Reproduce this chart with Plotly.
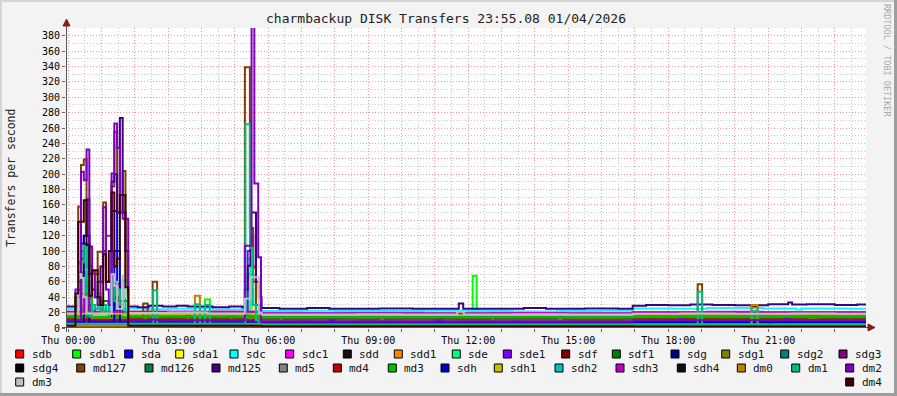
import plotly.graph_objects as go

# ---------------- data (minutes after Thu 00:00, transfers/s), step changes ----------------
T_START, T_END = -4, 1436
Y_MAX = 390

sdb = [[-4, 2.4], [18, 72], [28, 45], [38, 2.4], [83, 58], [93, 2.4], [348, 2.4]]
sdb1 = [[-4, 14], [23, 60], [33, 14], [88, 20], [98, 14], [246, 37], [255, 14], [728, 68], [735, 14], [1016, 15]]
sda = [[-4, 7], [23, 110], [33, 7], [78, 152], [88, 7], [323, 70], [333, 6.3], [1016, 7.6]]
sda1 = [[-4, 19], [13, 40], [18, 82], [28, 76], [38, 19], [323, 60], [333, 17.6], [1040, 21], [1060, 18.5]]
sdc = [[-4, 25], [18, 70], [28, 40], [38, 25], [78, 60], [88, 25], [108, 25.5], [140, 24.5], [180, 25], [230, 26],
       [260, 24], [313, 25], [323, 50], [333, 30], [348, 22], [420, 22.5], [480, 22], [640, 22.5], [720, 22],
       [800, 21.5], [880, 22], [960, 22.5], [1016, 25.5], [1090, 25], [1150, 26], [1250, 25.5], [1310, 24],
       [1320, 25.5], [1400, 25]]
sdc1 = [[-4, 21], [23, 55], [33, 21], [83, 55], [93, 21], [348, 19.3], [500, 19.6], [640, 19], [760, 19.5],
        [900, 19], [1016, 20.6], [1150, 21], [1250, 20.6]]
sdd = [[-4, 0.5]]
sdd1 = [[-4, 13], [18, 86], [28, 13], [328, 78], [338, 11.5], [1016, 12]]
sde = [[-4, 5.5], [28, 60], [38, 5.5], [318, 90], [328, 4.6]]
sde1 = [[-4, 10], [13, 50], [23, 10], [323, 100], [328, 120], [333, 80], [338, 8.5], [1016, 10]]
sdf = [[-4, 3], [28, 30], [38, 3], [348, 2.4], [1016, 2]]
sdf1 = [[-4, 15], [38, 30], [48, 20], [63, 35], [78, 37], [93, 35], [108, 15], [348, 14], [1016, 15]]
sdg = [[-4, 7], [348, 6.3], [1016, 7.6]]
sdg1 = [[-4, 13], [348, 11.5], [1016, 12]]
sdg2 = [[-4, 5.5], [348, 4.6]]
sdg3 = [[-4, 10], [348, 8.5], [1016, 10]]
sdg4 = [[-4, 0.5]]
md127 = [[-4, 13], [13, 40], [18, 158], [23, 212], [28, 219], [33, 120], [38, 80], [43, 74], [48, 70], [53, 99],
         [63, 163], [68, 120], [78, 184], [83, 255], [88, 150], [98, 204], [103, 60], [108, 13], [135, 32],
         [143, 13], [152, 60], [160, 13], [200, 12.5], [212, 16], [220, 12.5], [260, 13], [290, 15], [298, 13],
         [318, 339], [327, 130], [333, 60], [338, 30], [343, 20], [348, 11.5], [380, 14], [388, 11.5], [440, 12],
         [520, 11], [560, 14], [570, 11.5], [600, 12], [700, 11.5], [760, 14.5], [768, 12], [800, 12], [880, 14],
         [892, 11], [900, 11], [1000, 12], [1133, 57], [1141, 12], [1180, 14], [1188, 12], [1230, 28], [1241, 12],
         [1300, 12.5], [1330, 15], [1350, 12.5], [1380, 12], [1400, 14], [1410, 12]]
md126 = [[-4, 15], [13, 40], [23, 100], [28, 60], [33, 30], [48, 20], [58, 35], [73, 30], [88, 35], [98, 20],
         [108, 15], [348, 14], [1016, 15]]
md125 = [[-4, 28], [13, 28], [18, 60], [23, 90], [28, 120], [33, 167], [38, 70], [43, 50], [48, 40], [53, 60],
         [58, 80], [63, 100], [68, 60], [78, 190], [83, 200], [88, 150], [93, 273], [98, 150], [103, 100],
         [108, 28], [125, 27], [145, 29], [170, 28], [195, 29], [215, 28], [260, 27], [290, 28], [313, 27],
         [318, 50], [323, 81], [328, 150], [338, 60], [343, 40], [348, 26], [380, 25], [430, 26], [470, 25],
         [560, 25.5], [620, 25], [703, 32], [711, 25], [760, 25], [820, 26], [860, 25], [930, 25.5], [990, 25],
         [1016, 29], [1040, 30], [1080, 29.5], [1120, 30.5], [1160, 30], [1200, 29.5], [1260, 31], [1296, 33],
         [1303, 30.5], [1330, 31], [1380, 30], [1420, 30.5]]
md5 = [[-4, 19], [23, 50], [33, 19], [348, 17.6], [1016, 18.5]]
md4 = [[-4, 3], [23, 45], [33, 3], [83, 40], [93, 3], [348, 2.4], [1016, 2]]
md3 = [[-4, 15], [33, 40], [43, 15], [73, 35], [83, 15], [348, 14], [1016, 15]]
sdh = [[-4, 7], [28, 120], [38, 7], [83, 100], [93, 7], [180, 9], [188, 7], [348, 6.3], [420, 8], [428, 6.3],
       [610, 4.5], [618, 6.3], [800, 8], [806, 6.3], [1016, 7.6], [1140, 9], [1150, 7.6], [1260, 5.5], [1268, 7.6],
       [1380, 9], [1386, 7.6]]
sdh1 = [[-4, 19], [348, 17.6], [1016, 18.5]]
sdh2 = [[-4, 5.5], [348, 4.6]]
sdh3 = [[-4, 21], [28, 40], [38, 21], [348, 19.3], [1016, 20.6]]
sdh4 = [[-4, 0.5]]
dm0 = [[-4, 3], [228, 42], [237, 3], [348, 2.4], [1016, 2], [1230, 30], [1241, 2]]
dm1 = [[-4, 5.5], [13, 20], [18, 85], [28, 107], [33, 20], [38, 15], [43, 30], [48, 25], [53, 45], [58, 20],
       [63, 30], [68, 20], [73, 35], [78, 55], [83, 35], [88, 50], [93, 30], [98, 62], [103, 20], [108, 5.5],
       [153, 49], [160, 5.5], [228, 31], [237, 5.5], [246, 30], [255, 5.5], [319, 265], [327, 104], [332, 30],
       [338, 10], [343, 5], [348, 4.6], [1133, 47], [1141, 4.6], [1230, 22], [1241, 4.6]]
dm2 = [[-4, 10], [23, 203], [28, 192], [33, 232], [38, 106], [43, 71], [48, 40], [53, 30], [58, 60], [63, 157],
       [68, 50], [73, 30], [78, 201], [83, 266], [88, 234], [93, 150], [98, 142], [108, 10], [150, 11], [160, 10],
       [318, 107], [330, 395], [335, 188], [342, 92], [347, 8.5], [470, 10], [480, 8.5], [660, 10], [672, 8.5],
       [1016, 10], [1100, 11.5], [1110, 10], [1290, 11.5], [1300, 10]]
dm3 = [[-4, 19], [18, 70], [23, 65], [28, 40], [33, 19], [78, 70], [83, 55], [88, 25], [98, 68], [103, 40],
       [108, 19.5], [180, 20], [250, 19], [318, 38], [328, 66], [343, 20], [348, 17.6], [520, 18], [600, 17.6],
       [700, 21], [712, 17.6], [800, 18], [900, 17.5], [1016, 18.5], [1100, 19], [1200, 18.5], [1300, 19],
       [1380, 18.5]]
dm4 = [[-4, 3], [13, 45], [18, 138], [28, 166], [33, 108], [38, 42], [43, 75], [53, 40], [58, 30], [63, 96],
       [68, 60], [73, 100], [78, 176], [83, 80], [88, 90], [93, 173], [103, 53], [108, 3], [348, 2.4], [1016, 2]]

names = ["sdb", "sdb1", "sda", "sda1", "sdc", "sdc1", "sdd", "sdd1", "sde", "sde1", "sdf", "sdf1", "sdg", "sdg1",
         "sdg2", "sdg3", "sdg4", "md127", "md126", "md125", "md5", "md4", "md3", "sdh", "sdh1", "sdh2", "sdh3",
         "sdh4", "dm0", "dm1", "dm2", "dm3", "dm4"]
values = [sdb, sdb1, sda, sda1, sdc, sdc1, sdd, sdd1, sde, sde1, sdf, sdf1, sdg, sdg1, sdg2, sdg3, sdg4,
          md127, md126, md125, md5, md4, md3, sdh, sdh1, sdh2, sdh3, sdh4, dm0, dm1, dm2, dm3, dm4]
colors = ["#FF0000", "#00FF00", "#0000FF", "#FFFF00", "#00FFFF", "#FF00FF", "#111111", "#FF8800", "#00FF80",
          "#8000FF", "#800000", "#008000", "#000080", "#808000", "#008080", "#800080", "#000000",
          "#804000", "#008040", "#400080", "#808080", "#C00000", "#00C000", "#0000C0", "#C0C000", "#00C0C0",
          "#C000C0", "#101010", "#C08000", "#00C080", "#8000C0", "#C0C0C0", "#400000"]

x_tick_minutes = list(range(0, 1440, 60))
x_tick_text = ["Thu %02d:00" % (m // 60) if m % 180 == 0 else "" for m in x_tick_minutes]
y_ticks = list(range(0, 391, 20))

# ---------------- layout helpers ----------------
W, H = 897, 396
ML, MR, MT, MB = 66, 31, 28, 68
PW, PH = W - ML - MR, H - MT - MB


def px(x):
    return (x - ML) / PW


def py(y):
    return (H - MB - y) / PH


MONO = "DejaVu Sans Mono"

fig = go.Figure()
for name, color, pts in zip(names, colors, values):
    pts = sorted(pts)
    xs = [p[0] for p in pts] + [T_END]
    ys = [p[1] for p in pts] + [pts[-1][1]]
    fig.add_trace(go.Scatter(x=xs, y=ys, mode="lines", name=name,
                             line=dict(color=color, width=2, shape="hv"),
                             hoverinfo="skip", showlegend=False))

fig.update_xaxes(range=[T_START, T_END], tickmode="array", tickvals=x_tick_minutes, ticktext=x_tick_text,
                 showgrid=True, gridcolor="#FF9A9A", griddash="1px,2px", gridwidth=1,
                 minor=dict(dtick=30, tick0=0, showgrid=True, gridcolor="#C8C8C8", griddash="1px,2px"),
                 ticks="outside", ticklen=3, tickcolor="#666666", zeroline=False, showline=False,
                 tickfont=dict(family=MONO, size=10, color="#000000"), fixedrange=True)
fig.update_yaxes(range=[0, Y_MAX], tickmode="array", tickvals=y_ticks, ticktext=[str(v) for v in y_ticks],
                 showgrid=True, gridcolor="#FF9A9A", griddash="1px,2px", gridwidth=1,
                 minor=dict(dtick=10, tick0=0, showgrid=True, gridcolor="#C8C8C8", griddash="1px,2px"),
                 ticks="outside", ticklen=3, tickcolor="#666666", zeroline=False, showline=False,
                 tickfont=dict(family=MONO, size=10, color="#000000"), fixedrange=True)

shapes = []
# frame
shapes.append(dict(type="rect", xref="paper", yref="paper", x0=px(0), x1=px(W), y0=py(0), y1=py(2),
                   fillcolor="#D4D4D4", line=dict(width=0), layer="below"))
shapes.append(dict(type="rect", xref="paper", yref="paper", x0=px(0), x1=px(2), y0=py(0), y1=py(H),
                   fillcolor="#D4D4D4", line=dict(width=0), layer="below"))
shapes.append(dict(type="rect", xref="paper", yref="paper", x0=px(0), x1=px(W), y0=py(H - 3), y1=py(H),
                   fillcolor="#9E9E9E", line=dict(width=0), layer="below"))
shapes.append(dict(type="rect", xref="paper", yref="paper", x0=px(W - 3), x1=px(W), y0=py(0), y1=py(H),
                   fillcolor="#9E9E9E", line=dict(width=0), layer="below"))
# axis lines
shapes.append(dict(type="line", xref="paper", yref="paper", x0=px(66.5), x1=px(66.5), y0=py(24), y1=py(332),
                   line=dict(color="#555555", width=1)))
shapes.append(dict(type="line", xref="paper", yref="paper", x0=px(62), x1=px(870), y0=py(327.5), y1=py(327.5),
                   line=dict(color="#555555", width=1)))
# arrows
shapes.append(dict(type="path", xref="paper", yref="paper",
                   path="M %f,%f L %f,%f L %f,%f Z" % (px(66.5), py(19), px(63), py(26), px(70), py(26)),
                   fillcolor="#8B1A1A", line=dict(color="#8B1A1A", width=1)))
shapes.append(dict(type="path", xref="paper", yref="paper",
                   path="M %f,%f L %f,%f L %f,%f Z" % (px(875), py(327.5), px(868), py(324), px(868), py(331)),
                   fillcolor="#8B1A1A", line=dict(color="#8B1A1A", width=1)))

annotations = []
annotations.append(dict(text="charmbackup DISK Transfers 23:55.08 01/04/2026", x=px(446), y=py(19),
                        xref="paper", yref="paper", showarrow=False, xanchor="center", yanchor="middle",
                        font=dict(family=MONO, size=13, color="#222222")))
annotations.append(dict(text="Transfers per second", x=px(11), y=py(178), xref="paper", yref="paper",
                        showarrow=False, textangle=-90, xanchor="center", yanchor="middle",
                        font=dict(family=MONO, size=11.5, color="#222222")))
annotations.append(dict(text="RRDTOOL / TOBI OETIKER", x=px(887), y=py(60), xref="paper", yref="paper",
                        showarrow=False, textangle=90, xanchor="center", yanchor="middle",
                        font=dict(family=MONO, size=8.5, color="#AAAAAA")))

# legend (RRD style): box-left pixel positions per row
legend_rows = [
    (354, [15.7, 72.7, 124.7, 175.7, 230, 285.7, 343.3, 394.3, 452.3, 503.3, 561.7, 612.3, 671, 721.7, 780.7, 839]),
    (368, [15.7, 76.7, 145, 212, 279.3, 333.3, 388.3, 441, 494.3, 555, 616, 677.3, 737.3, 791.7, 845.7]),
    (382, [15.7, 845.7]),
]
k = 0
for row_y, xs in legend_rows:
    for bx in xs:
        shapes.append(dict(type="rect", xref="paper", yref="paper", x0=px(bx), x1=px(bx + 8),
                           y0=py(row_y - 4), y1=py(row_y + 4), fillcolor=colors[k],
                           line=dict(color="#000000", width=1)))
        annotations.append(dict(text=names[k], x=px(bx + 14), y=py(row_y), xref="paper", yref="paper",
                                showarrow=False, xanchor="left", yanchor="middle",
                                font=dict(family=MONO, size=11, color="#111111")))
        k += 1

fig.update_layout(width=W, height=H, autosize=False,
                  margin=dict(l=ML, r=MR, t=MT, b=MB, pad=0),
                  paper_bgcolor="#F3F3F3", plot_bgcolor="#FFFFFF",
                  shapes=shapes, annotations=annotations, showlegend=False)

fig.write_html("out.html", config={"displayModeBar": False})
